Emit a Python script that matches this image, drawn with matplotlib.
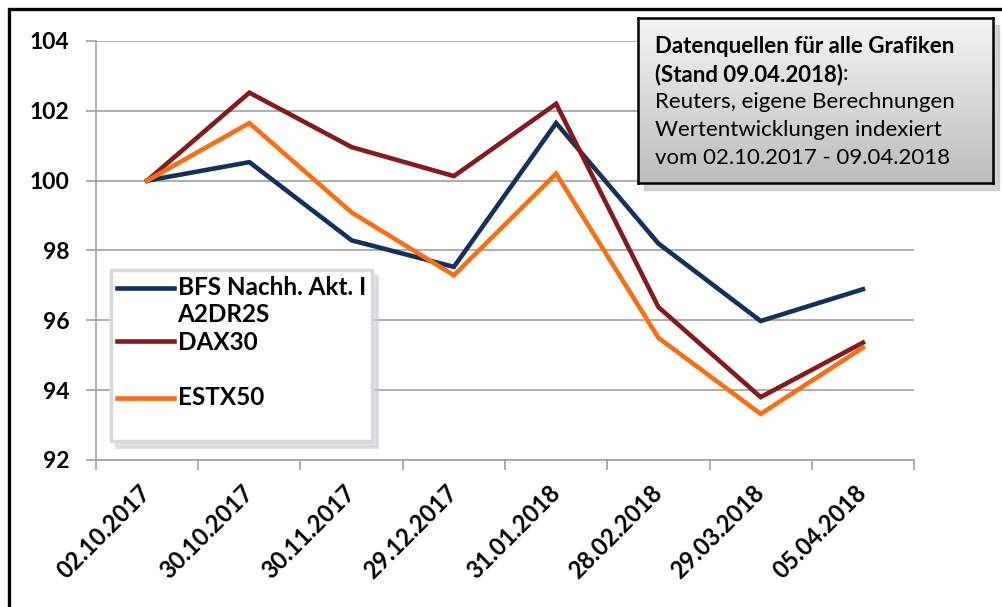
import numpy as np
import matplotlib
matplotlib.use("Agg")
from matplotlib import pyplot as plt
from matplotlib.patches import Rectangle
from matplotlib.legend_handler import HandlerLine2D

plt.rcParams['font.family'] = ['Lato', 'DejaVu Sans']

# Daten (indexiert, 02.10.2017 = 100)
dates = ['02.10.2017', '30.10.2017', '30.11.2017', '29.12.2017',
         '31.01.2018', '28.02.2018', '29.03.2018', '05.04.2018']
bfs = [100.0, 100.53, 98.29, 97.53, 101.65, 98.2, 95.98, 96.89]
dax = [100.0, 102.52, 100.96, 100.13, 102.2, 96.38, 93.8, 95.36]
estx = [100.0, 101.65, 99.09, 97.29, 100.2, 95.5, 93.32, 95.22]
names = ['BFS Nachh. Akt. I\nA2DR2S', 'DAX30', '\nESTX50\n']
colors = ['#13315C', '#86191C', '#FA6E12']


# Legendenlinie auf Hoehe der ersten Textzeile
class FirstLineHandler(HandlerLine2D):
    def __init__(self, shift, **kw):
        super().__init__(**kw)
        self.shift = shift

    def create_artists(self, legend, orig_handle, xdescent, ydescent,
                       width, height, fontsize, trans):
        arts = super().create_artists(legend, orig_handle, xdescent, ydescent,
                                      width, height, fontsize, trans)
        for a in arts:
            a.set_ydata(np.asarray(a.get_ydata()) + self.shift * fontsize)
        return arts


fig = plt.figure(figsize=(10.02, 6.07), dpi=100)
ax = fig.add_axes([0.0958, 0.2422, 0.8164, 0.6903])

x = np.arange(len(dates))
lines = []
for vals, name, col in zip([bfs, dax, estx], names, colors):
    ln, = ax.plot(x, vals, color=col, lw=3.3, label=name, solid_joinstyle='miter')
    lines.append(ln)

ax.set_ylim(92, 104)
ax.set_yticks(np.arange(92, 105, 2))
ax.set_xlim(-0.5, len(dates) - 0.5)
ax.set_xticks(x)
ax.set_xticklabels(dates, rotation=45, ha='right', va='center',
                   rotation_mode='anchor', fontsize=17, fontweight='bold')
ax.set_xticks(np.arange(-0.5, len(dates), 1), minor=True)
ax.tick_params(axis='x', which='major', length=0, pad=21)
ax.tick_params(axis='x', which='minor', length=7, width=1.2, color='#A0A0A0')
ax.tick_params(axis='y', length=7, width=1.2, color='#A0A0A0', pad=12,
               labelsize=16.5)
for lab in ax.get_yticklabels():
    lab.set_fontweight('bold')

ax.grid(axis='y', color='#A0A0A0', lw=1.2)
ax.set_axisbelow(True)
for s in ['top', 'right']:
    ax.spines[s].set_visible(False)
for s in ['left', 'bottom']:
    ax.spines[s].set_color('#A0A0A0')
    ax.spines[s].set_linewidth(1.2)

leg = ax.legend(loc='upper left', bbox_to_anchor=(0.018, 0.453),
                prop={'weight': 'bold', 'size': 17.5},
                frameon=True, fancybox=False, handlelength=2.35,
                handletextpad=0.15, labelspacing=0.2, borderpad=0.25,
                borderaxespad=0,
                handler_map={lines[0]: FirstLineHandler(0.6)},
                shadow={'color': '#C8C8D0', 'ox': 4, 'oy': -4})
leg.get_frame().set_edgecolor('#D8D8E0')
leg.get_frame().set_linewidth(2.5)
leg.get_frame().set_facecolor('white')
leg.get_frame().set_alpha(1)

# Infobox mit Verlauf
bx = [0.6367, 0.6985, 0.3543, 0.2718]
fig.patches.append(Rectangle((bx[0] + 0.006, bx[1] - 0.012), bx[2], bx[3],
                             transform=fig.transFigure, color='#B8B8B8',
                             alpha=0.6, zorder=4))
box = fig.add_axes(bx, zorder=5)
grad = np.linspace(0, 1, 100).reshape(-1, 1)
box.imshow(grad, cmap=matplotlib.colors.LinearSegmentedColormap.from_list(
    'g', ['#F4F4F4', '#BDBDBD']), aspect='auto', extent=[0, 1, 0, 1])
box.set_xticks([])
box.set_yticks([])
for s in box.spines.values():
    s.set_linewidth(1.8)
    s.set_color('black')

fs = 16
tx = 0.048
box.text(tx, 0.83, 'Datenquellen für alle Grafiken', fontsize=fs,
         fontweight='bold', transform=box.transAxes, va='center')
t2 = box.text(tx, 0.66, '(Stand 09.04.2018)', fontsize=fs,
              fontweight='bold', transform=box.transAxes, va='center')
fig.canvas.draw()
bb = t2.get_window_extent().transformed(box.transAxes.inverted())
box.text(bb.x1, 0.66, ':', fontsize=fs, transform=box.transAxes, va='center')
box.text(tx, 0.49, 'Reuters, eigene Berechnungen', fontsize=fs,
         transform=box.transAxes, va='center')
box.text(tx, 0.32, 'Wertentwicklungen indexiert', fontsize=fs,
         transform=box.transAxes, va='center')
box.text(tx, 0.15, 'vom 02.10.2017 - 09.04.2018', fontsize=fs,
         transform=box.transAxes, va='center')

# Rahmen
fig.patches.append(Rectangle((8.5 / 1002, -0.1), 1.2, 1.1 - 8.5 / 607,
                             transform=fig.transFigure, fill=False,
                             edgecolor='black', lw=2.4, zorder=10))

fig.savefig('out.png', dpi=100)
